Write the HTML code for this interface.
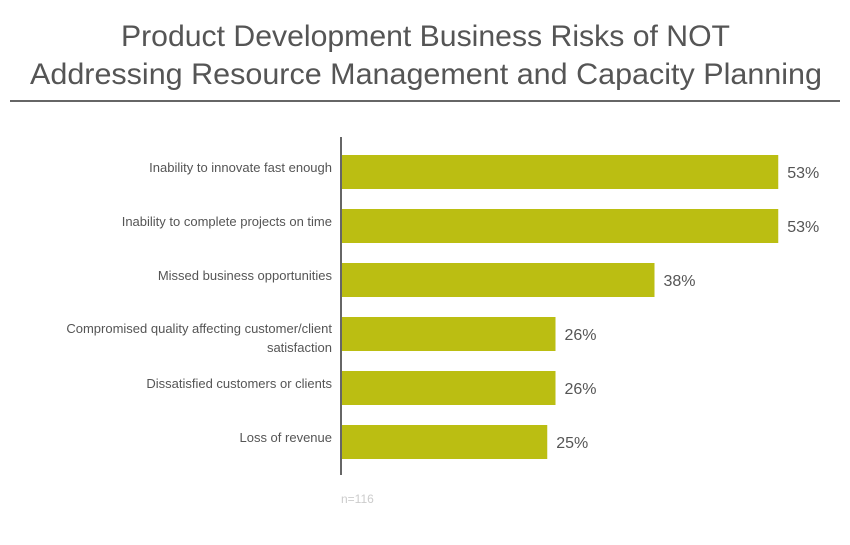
<!DOCTYPE html>
<html><head><meta charset="utf-8"><style>
body{margin:0;background:#fff;width:850px;height:540px;overflow:hidden;font-family:"Liberation Sans",sans-serif}
</style></head><body>
<svg width="850" height="540">
<text x="121" y="46" textLength="609" lengthAdjust="spacingAndGlyphs" font-family="Liberation Sans, sans-serif" font-size="30" fill="#555">Product Development Business Risks of NOT</text>
<text x="30" y="84" textLength="792" lengthAdjust="spacingAndGlyphs" font-family="Liberation Sans, sans-serif" font-size="30" fill="#555">Addressing Resource Management and Capacity Planning</text>
<line x1="10" y1="101" x2="840" y2="101" stroke="#666" stroke-width="2"/>
<g id="bars"></g>
<line x1="341" y1="137" x2="341" y2="475" stroke="#666" stroke-width="2"/>
<text x="341" y="503" font-size="12" fill="#ccc">n=116</text>
</svg>
<script>
const categories=[["Inability to innovate fast enough"],["Inability to complete projects on time"],["Missed business opportunities"],["Compromised quality affecting customer/client","satisfaction"],["Dissatisfied customers or clients"],["Loss of revenue"]];
const values=[53,53,38,26,26,25];
const labels=["53%","53%","38%","26%","26%","25%"];
const ns="http://www.w3.org/2000/svg";
const g=document.getElementById('bars');
const x=v=>341+v*8.25;
const y=i=>155+i*54;
values.forEach((v,i)=>{
 const r=document.createElementNS(ns,'rect');
 
 
 r.setAttribute('x',341);r.setAttribute('y',y(i));r.setAttribute('width',x(v)-341);r.setAttribute('height',34);r.setAttribute('fill','#bbbe12');
 g.appendChild(r);
 const t=document.createElementNS(ns,'text');
 
 
 t.setAttribute('x',x(v)+9);t.setAttribute('y',y(i)+23);t.setAttribute('font-size','16');t.setAttribute('fill','#555');
 t.textContent=labels[i];g.appendChild(t);
 const lines=categories[i];
 lines.forEach((s,j)=>{
  const c=document.createElementNS(ns,'text');
  
  
  const base=lines.length>1?y(i)+16:y(i)+17;
  c.setAttribute('x',332);c.setAttribute('y',base+j*19);c.setAttribute('text-anchor','end');c.setAttribute('font-size','13');c.setAttribute('fill','#555');
  c.textContent=s;g.appendChild(c);
 });
});
</script>
</body></html>
